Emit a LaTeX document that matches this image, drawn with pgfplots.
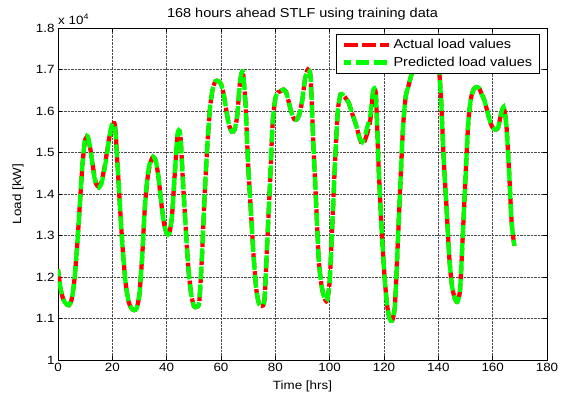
\documentclass[border=0pt]{standalone}
\usepackage{pgfplots}
\usepackage{pgfplotstable}
\pgfplotsset{compat=1.18}
\usepackage{fontspec}
\setmainfont[FakeStretch=1.12]{Liberation Sans}

\pgfplotstableread{
t load
0 12180
1 11700
2 11450
3 11350
4 11320
5 11450
6 11900
7 12700
8 13700
9 14700
10 15300
11 15350
12 15050
13 14600
14 14250
15 14180
16 14300
17 14600
18 15000
19 15400
20 15650
21 15650
22 14600
23 13500
24 12500
25 11800
26 11400
27 11250
28 11200
29 11250
30 11600
31 12500
32 13700
33 14400
34 14750
35 14900
36 14800
37 14400
38 13800
39 13300
40 13050
41 13050
42 13500
43 14500
44 15400
45 15450
46 14300
47 13200
48 12200
49 11600
50 11300
51 11280
52 11400
53 12500
54 14000
55 15200
56 16100
57 16550
58 16720
59 16720
60 16650
61 16400
62 16000
63 15650
64 15500
65 15550
66 15900
67 16700
68 16950
69 16200
70 14700
71 13600
72 12500
73 11700
74 11350
75 11300
76 11450
77 12800
78 14200
79 15700
80 16300
81 16450
82 16480
83 16520
84 16450
85 16200
86 15950
87 15800
88 15800
89 15950
90 16300
91 16800
92 17000
93 16800
94 15200
95 13800
96 12400
97 11800
98 11500
99 11430
100 11900
101 13300
102 14800
103 16000
104 16400
105 16380
106 16300
107 16200
108 16000
109 15800
110 15600
111 15350
112 15200
113 15300
114 15500
115 15800
116 16450
117 16400
118 14700
119 13300
120 12200
121 11400
122 11000
123 10950
124 11300
125 12700
126 14200
127 15600
128 16350
129 16600
130 16850
131 17050
132 17200
133 17300
134 17300
135 17200
136 17000
137 17100
138 17300
139 17400
140 17200
141 16300
142 14800
143 13700
144 12500
145 11800
146 11500
147 11400
148 11700
149 13000
150 14400
151 15700
152 16300
153 16520
154 16580
155 16550
156 16400
157 16250
158 16000
159 15750
160 15600
161 15550
162 15600
163 15900
164 16100
165 15700
166 14600
167 13300
168 12750
}\actual

\pgfplotstableread{
t load
0 12180
1 11700
2 11450
3 11350
4 11320
5 11450
6 11900
7 12700
8 13700
9 14700
10 15350
11 15380
12 15050
13 14550
14 14220
15 14150
16 14250
17 14550
18 14950
19 15400
20 15700
21 15600
22 14600
23 13500
24 12500
25 11800
26 11400
27 11250
28 11200
29 11250
30 11600
31 12500
32 13700
33 14450
34 14800
35 14900
36 14800
37 14400
38 13800
39 13300
40 13050
41 13050
42 13500
43 14500
44 15450
45 15450
46 14300
47 13200
48 12200
49 11600
50 11300
51 11280
52 11400
53 12500
54 14000
55 15200
56 16100
57 16550
58 16720
59 16720
60 16650
61 16400
62 16000
63 15650
64 15500
65 15550
66 15900
67 16700
68 16950
69 16200
70 14700
71 13600
72 12500
73 11700
74 11350
75 11300
76 11450
77 12800
78 14200
79 15700
80 16300
81 16450
82 16480
83 16520
84 16450
85 16200
86 15950
87 15800
88 15800
89 15950
90 16300
91 16800
92 17000
93 16800
94 15200
95 13800
96 12400
97 11800
98 11500
99 11430
100 11900
101 13300
102 14800
103 16000
104 16400
105 16380
106 16300
107 16200
108 16000
109 15800
110 15600
111 15350
112 15250
113 15400
114 15650
115 15900
116 16500
117 16400
118 14700
119 13300
120 12200
121 11400
122 11000
123 10950
124 11300
125 12700
126 14200
127 15600
128 16350
129 16600
130 16850
131 17050
132 17200
133 17300
134 17300
135 17200
136 17000
137 17100
138 17300
139 17400
140 17200
141 16300
142 14800
143 13700
144 12500
145 11800
146 11500
147 11400
148 11700
149 13000
150 14400
151 15700
152 16300
153 16520
154 16580
155 16550
156 16400
157 16250
158 16000
159 15750
160 15600
161 15550
162 15600
163 15900
164 16100
165 15700
166 14600
167 13300
168 12750
}\predicted

\begin{document}
\begin{tikzpicture}
\useasboundingbox (-58bp,-40bp) rectangle (503bp,360bp);
\begin{axis}[
  at={(0,0)}, anchor=south west,
  scale only axis,
  clip mode=individual,
  width=489bp, height=332bp,
  xmin=0, xmax=180, ymin=10000, ymax=18000,
  xtick={0,20,...,180},
  ytick={10000,11000,...,18000},
  yticklabels={1,1.1,1.2,1.3,1.4,1.5,1.6,1.7,1.8},
  scaled y ticks=false,
  /pgf/number format/assume math mode=true,
  font=\fontsize{12}{14}\selectfont,
  tick label style={font=\fontsize{12}{14}\selectfont},
  tick align=inside,
  major tick length=4bp,
  tick style={black, line width=0.6pt},
  axis line style={black, line width=0.8pt},
  grid=major,
  major grid style={densely dotted, black!70, line width=0.6pt},
  title={168 hours ahead STLF using training data},
  title style={at={(axis description cs:0.5,1)}, anchor=base, yshift=5bp,
    font=\fontsize{13}{15}\selectfont},
  xlabel={Time [hrs]},
  xlabel style={at={(axis description cs:0.5,0)}, anchor=center, yshift=-26bp},
  ylabel={Load [kW]},
  ylabel style={at={(axis description cs:0,0.5)}, anchor=center, yshift=40bp},
  legend style={at={(1,1)}, anchor=north east, xshift=-7bp, yshift=-6bp,
    draw=black, fill=white, line width=0.6pt, inner xsep=5bp, inner ysep=2.5bp,
    font=\fontsize{13}{15}\selectfont, row sep=2bp,
    nodes={inner sep=2.5bp}},
  legend cell align=left,
  legend image code/.code={\draw[#1] (0bp,0bp) -- (45bp,0bp);},
]
\addplot[red, line width=4.3pt, dash pattern=on 14bp off 4bp, smooth, tension=0.4] table[x=t, y=load] {\actual};
\addlegendentry{Actual load values}
\addplot[green, line width=4.3pt, dash pattern=on 13bp off 5bp, dash phase=6bp, smooth, tension=0.4] table[x=t, y=load] {\predicted};
\addlegendentry{Predicted load values}
\node[anchor=base west, inner sep=0pt] at (rel axis cs:0,1) [yshift=4bp] {x 10\textsuperscript{4}};
\end{axis}
\end{tikzpicture}
\end{document}
